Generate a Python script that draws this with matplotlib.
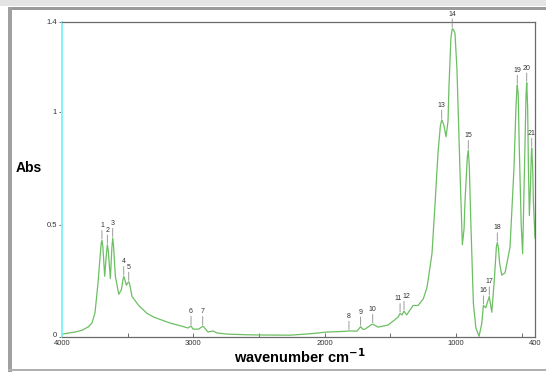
import numpy as np
import matplotlib
matplotlib.use("Agg")
from matplotlib import pyplot as plt
from matplotlib.patches import Rectangle
from matplotlib.transforms import ScaledTranslation

plt.rcParams['font.family'] = ['Liberation Sans', 'DejaVu Sans']

# spectrum (wavenumber cm-1, absorbance)
wavenumber = [4000, 3900, 3848, 3800, 3772, 3749, 3726, 3710, 3702, 3696,
              3689, 3675, 3662, 3655, 3648, 3632, 3620, 3614, 3607, 3594,
              3568, 3548, 3536, 3530, 3522, 3510, 3498, 3492, 3485, 3467,
              3416, 3353, 3300, 3178, 3100, 3041, 3018, 3003, 2960, 2935,
              2929, 2920, 2889, 2851, 2820, 2744, 2600, 2493, 2265, 2100,
              1983, 1850, 1816, 1755, 1727, 1710, 1694, 1645, 1635, 1620,
              1595, 1519, 1470, 1440, 1427, 1412, 1397, 1377, 1328, 1290,
              1250, 1222, 1184, 1161, 1138, 1120, 1110, 1095, 1077, 1062,
              1055, 1040, 1030, 1020, 1009, 994, 971, 953, 940, 933,
              915, 908, 900, 889, 869, 850, 826, 805, 793, 775,
              748, 729, 710, 694, 687, 678, 670, 653, 628, 590,
              560, 545, 538, 535, 528, 520, 505, 494, 480, 468,
              463, 456, 450, 443, 435, 428, 425, 418, 412, 400]
absorbance = [0.013, 0.022, 0.030, 0.045, 0.062, 0.107, 0.240, 0.360, 0.415, 0.430,
              0.400, 0.270, 0.370, 0.410, 0.385, 0.260, 0.400, 0.440, 0.400, 0.270,
              0.190, 0.210, 0.255, 0.270, 0.255, 0.230, 0.242, 0.245, 0.235, 0.180,
              0.140, 0.105, 0.088, 0.062, 0.050, 0.040, 0.049, 0.035, 0.035, 0.045,
              0.048, 0.044, 0.022, 0.027, 0.018, 0.013, 0.010, 0.009, 0.008, 0.015,
              0.022, 0.025, 0.027, 0.026, 0.046, 0.034, 0.035, 0.055, 0.057, 0.052,
              0.044, 0.053, 0.075, 0.090, 0.105, 0.098, 0.115, 0.098, 0.140, 0.140,
              0.170, 0.220, 0.370, 0.590, 0.820, 0.940, 0.965, 0.945, 0.890, 0.960,
              1.110, 1.330, 1.370, 1.365, 1.350, 1.190, 0.740, 0.410, 0.480, 0.600,
              0.800, 0.830, 0.760, 0.520, 0.150, 0.040, 0.003, 0.060, 0.140, 0.130,
              0.180, 0.110, 0.250, 0.400, 0.420, 0.395, 0.330, 0.275, 0.285, 0.400,
              0.750, 1.020, 1.100, 1.120, 1.080, 0.850, 0.500, 0.370, 0.750, 1.080,
              1.130, 1.020, 0.750, 0.540, 0.660, 0.810, 0.840, 0.760, 0.600, 0.440]

# labelled peaks
peak_wn = [3696, 3655, 3614, 3530, 3492, 3018, 2929, 1816, 1727, 1635,
           1427, 1397, 1110, 1030, 908, 793, 748, 687, 535, 463, 425]
peak_names = [str(i) for i in range(1, 22)]
name_shift = {'11': -1.5, '12': 1.5}

xticks = [4000, 3000, 2000, 1000, 400]
xminor = [3500, 2500, 1500, 500]
yticks = [0, 0.5, 1, 1.4]
ylabels = ['0', '0.5', '1', '1.4']
yminor = [0.25, 0.75, 1.25]

fig = plt.figure(figsize=(5.46, 3.72), dpi=100)

# window-like frame around the plot
fig.patches.append(Rectangle((0, 1 - 6 / 372), 1, 6 / 372, transform=fig.transFigure,
                             facecolor='#e4e4e4', edgecolor='none'))
fig.patches.append(Rectangle((8 / 546, 1 - 10 / 372), 1, 3 / 372, transform=fig.transFigure,
                             facecolor='#9a9a9a', edgecolor='none'))
fig.patches.append(Rectangle((8 / 546, 0), 4 / 546, 1 - 7 / 372, transform=fig.transFigure,
                             facecolor='#a0a0a0', edgecolor='none'))
fig.patches.append(Rectangle((8 / 546, 1 / 372), 1, 2 / 372, transform=fig.transFigure,
                             facecolor='#b0b0b0', edgecolor='none'))

ax = fig.add_axes([62 / 546, 35 / 372, 473 / 546, 315 / 372])
ax.plot(wavenumber, absorbance, color='#6cbf62', lw=0.9)

peak_abs = np.interp(peak_wn, wavenumber[::-1], absorbance[::-1])
for wn, a, name in zip(peak_wn, peak_abs, peak_names):
    ax.annotate('', xy=(wn, a), xytext=(0, 7), textcoords='offset points',
                arrowprops=dict(arrowstyle='-', color='#8a8a8a', lw=0.6,
                                shrinkA=0, shrinkB=1), annotation_clip=False)
    ax.annotate(name, xy=(wn, a), xytext=(name_shift.get(name, 0), 8),
                textcoords='offset points', ha='center', va='bottom',
                fontsize=5, color='#333333', annotation_clip=False)

ax.set_xlim(4000, 400)
ax.set_ylim(0, 1.4)
ax.set_xticks(xticks)
ax.set_xticks(xminor, minor=True)
ax.set_yticks(yticks)
ax.set_yticklabels(ylabels)
ax.set_yticks(yminor, minor=True)
ax.tick_params(axis='x', which='both', direction='in', length=3, width=0.6,
               colors='#555555', labelsize=5.5, labelcolor='#333333', pad=2)
ax.tick_params(axis='y', which='major', direction='out', length=2.5, width=0.6,
               colors='#555555', labelsize=5.5, labelcolor='#333333', pad=1)
ax.tick_params(axis='y', which='minor', direction='out', length=1, width=0.6,
               colors='#555555')

# lift the "0" label a touch so it clears "4000"
zero_lbl = ax.get_yticklabels()[0]
zero_lbl.set_transform(zero_lbl.get_transform() +
                       ScaledTranslation(0, 2 / 72, fig.dpi_scale_trans))

ax.spines['left'].set_color('#80f4f8')
ax.spines['left'].set_linewidth(1.4)
for s in ['top', 'right', 'bottom']:
    ax.spines[s].set_color('#6a6a6a')
    ax.spines[s].set_linewidth(0.9)

fig.text(29 / 546, 1 - 168 / 372, 'Abs', ha='center', va='center',
         fontsize=10, fontweight='bold')
fig.text(300 / 546, 1 - 357 / 372, r'wavenumber cm$^{\mathbf{-1}}$', ha='center',
         va='center', fontsize=10.5, fontweight='bold')

fig.savefig('out.png', dpi=100)
